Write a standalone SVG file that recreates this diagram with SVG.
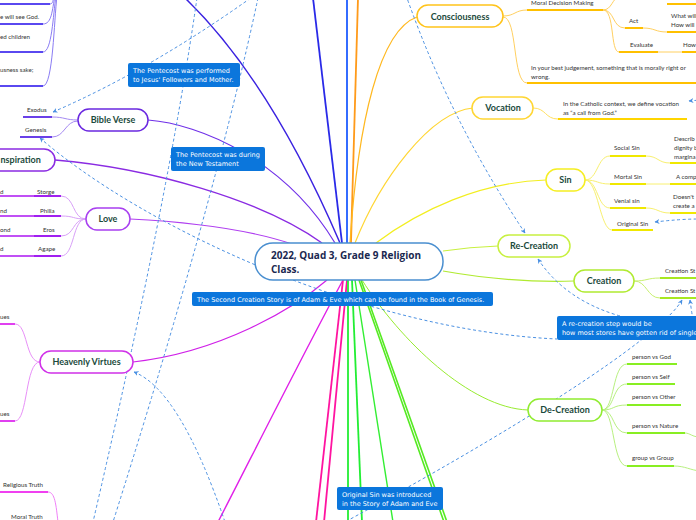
<svg xmlns="http://www.w3.org/2000/svg" width="696" height="520" viewBox="0 0 696 520">
<defs>
<marker id="ah" viewBox="0 0 10 10" refX="9" refY="5" markerWidth="5" markerHeight="5" orient="auto-start-reverse"><path d="M0,0 L10,5 L0,10 L3,5 z" fill="#4a90e2"/></marker>
</defs>
<style>
.c{fill:none}
.d{fill:none;stroke:#4a90e2;stroke-width:1;stroke-dasharray:3 2.5}
.n rect{fill:#fff;stroke-width:1.5}
.nt{font-family:Lato,"Open Sans",sans-serif;font-weight:bold;font-size:9px;fill:#1b4a3c;text-anchor:middle}
.sm{font-family:Lato,"Liberation Sans",sans-serif;font-size:6.2px;fill:#333}
.note rect{fill:#0b76dc}
.note text{font-family:"DejaVu Sans",sans-serif;font-size:6.5px;fill:#fff}
.ul{fill:none;stroke-width:1.8}
</style>
<rect width="696" height="520" fill="#fff"/>
<g id="connectors" class="c">
<path d="M340 243 Q270 80 185 -2" stroke="#3a22e0" stroke-width="1.5"/>
<path d="M342 243 L313 -2" stroke="#2a2ae8" stroke-width="1.8"/>
<path d="M347 243 L347 -2" stroke="#1f5cff" stroke-width="1.8"/>
<path d="M351 243 L358 -2" stroke="#ff9a1a" stroke-width="1.8"/>
<path d="M350 243 C358 120 380 30 417 17" stroke="#ffb81f" stroke-width="1.2"/>
<path d="M355 243 C380 180 430 112 473 108" stroke="#ffd633" stroke-width="1.2"/>
<path d="M376 243 C420 210 480 182 546 180" stroke="#f2ee20" stroke-width="1.2"/>
<path d="M443 251 Q470 247 498 246" stroke="#c8f040" stroke-width="1.2"/>
<path d="M443 271 Q510 283 574 281" stroke="#b0ea30" stroke-width="1.2"/>
<path d="M362 280 C400 340 470 408 528 410" stroke="#98ec30" stroke-width="1"/>
<path d="M148 120 C200 124 285 160 335 243" stroke="#7030e8" stroke-width="1.2"/>
<path d="M55 160 C150 168 262 200 322 243" stroke="#8a2be2" stroke-width="1.4"/>
<path d="M130 219 C190 222 250 230 292 244" stroke="#b040f0" stroke-width="1.2"/>
<path d="M133 362 C220 352 292 310 327 280" stroke="#d020e8" stroke-width="1.2"/>
<path d="M343 280 C300 360 250 460 218 522" stroke="#e020e8" stroke-width="1.4"/>
<path d="M343 280 L316 522" stroke="#ff14a0" stroke-width="1.8"/>
<path d="M347 280 L324 522" stroke="#ff14a0" stroke-width="1.8"/>
<path d="M348 280 L348 522" stroke="#22ee33" stroke-width="1.8"/>
<path d="M352 280 L362 522" stroke="#22ee33" stroke-width="1.8"/>
<path d="M355 280 L393 522" stroke="#33ee33" stroke-width="1.4"/>
<path d="M359 280 L444 522" stroke="#55ea22" stroke-width="1.6"/>
<path d="M361 280 L447 522" stroke="#55ea22" stroke-width="1.6"/>
<g stroke="#ffd060" stroke-width="1">
<path d="M503 16 C515 16 515 10 527 10"/>
<path d="M503 17 C518 17 512 83 527 83"/>
<path d="M603 10 C612 10 612 -2 620 -4"/>
<path d="M603 10 C615 10 612 28 625 28"/>
<path d="M603 10 C615 10 610 52 619 52"/>
<path d="M643 28 C655 28 655 32 667 32"/>
<path d="M658 52 H682"/>
</g>
<path d="M533 108 C546 108 545 119 558 119" stroke="#ffe060" stroke-width="1"/>
<g stroke="#f8f070" stroke-width="1">
<path d="M585 180 C598 180 597 156 610 156"/>
<path d="M585 180 C598 180 597 184 610 184"/>
<path d="M585 180 C598 180 597 208 610 208"/>
<path d="M585 180 C598 180 600 230 612 230"/>
<path d="M646 156 C658 156 658 163 670 163"/>
<path d="M646 184 H670"/>
<path d="M646 208 C658 208 658 213 670 213"/>
</g>
<g stroke="#c8f070" stroke-width="1">
<path d="M634 281 C647 281 647 278 660 278"/>
<path d="M634 281 C647 281 647 298 660 298"/>
</g>
<g stroke="#b8f080" stroke-width="1">
<path d="M602 410 C615 410 612 364 627 364"/>
<path d="M602 410 C615 410 612 384 627 384"/>
<path d="M602 410 C615 410 612 405 627 405"/>
<path d="M602 410 C615 410 612 433 627 433"/>
<path d="M602 410 C615 410 612 466 627 466"/>
<path d="M685 433 C690 433 692 437 700 437"/>
<path d="M674 466 C685 466 690 470 700 471"/>
</g>
<g stroke="#a58af2" stroke-width="1">
<path d="M78 120 C65 120 65 117 52 117"/>
<path d="M78 121 C65 121 65 137 52 137"/>
</g>
<g stroke="#d8a0f8" stroke-width="1">
<path d="M86 219 C72 219 75 196 61 196"/>
<path d="M86 219 C72 219 75 216 61 216"/>
<path d="M86 219 C72 219 75 236 61 236"/>
<path d="M86 219 C72 219 75 256 61 256"/>
</g>
<g stroke="#e890f8" stroke-width="1">
<path d="M40 362 C25 362 28 324 15 324"/>
<path d="M40 362 C25 362 28 421 15 421"/>
</g>
<g stroke="#8a7cf4" stroke-width="1">
<path d="M43 24 C52 24 52 10 55 -4"/>
<path d="M43 52 C52 52 53 15 56 -4"/>
<path d="M43 86 C53 86 54 20 57 -4"/>
<path d="M50 4 C53 4 53 0 54 -4"/>
</g>
<path d="M48 492 C55 492 56 505 58 522" stroke="#f080f8" stroke-width="1"/>
<path class="d" d="M53 112 Q150 70 255 -5" marker-start="url(#ah)"/>
<path class="d" d="M197 -2 Q168 200 93 522"/>
<path class="d" d="M258 -2 Q215 200 113 522"/>
<path class="d" d="M40 138 C140 225 360 330 557 339" marker-start="url(#ah)"/>
<path class="d" d="M134 372 Q180 390 225 522" marker-start="url(#ah)"/>
<path class="d" d="M682 300 C665 330 560 405 345 522" marker-start="url(#ah)"/>
<path class="d" d="M690 300 Q694 330 700 355" marker-start="url(#ah)"/>
<path class="d" d="M538 259 Q565 300 620 316" marker-start="url(#ah)"/>
<path class="d" d="M525 233 Q450 120 407 -2" marker-start="url(#ah)"/>
<path class="d" d="M689 101 L700 100" marker-start="url(#ah)"/>
<path class="d" d="M655 222 Q680 219 700 219" marker-start="url(#ah)"/>
</g>

<g id="center" class="n">
<rect x="255" y="243" width="188" height="37" rx="18" stroke="#4a8fd0" stroke-width="1.2"/>
<text x="271" y="259" font-family="'Open Sans',sans-serif" font-weight="bold" font-size="10" fill="#1a2850">2022, Quad 3, Grade 9 Religion</text>
<text x="271" y="273" font-family="'Open Sans',sans-serif" font-weight="bold" font-size="10" fill="#1a2850">Class.</text>
</g>

<g id="consciousness" class="n"><rect x="417" y="5" width="86" height="22" rx="11" stroke="#ffc31a"/><text class="nt" x="460" y="20">Consciousness</text></g>
<g id="consciousness-items">
<path class="ul" stroke="#ffc000" d="M527 10 H603 M527 83 H696 M667 4 H696 M625 28 H643 M619 52 H658 M667 32 H696 M682 52 H696"/>
<text class="sm" x="531" y="5">Moral Decision Making</text>
<text class="sm" x="629" y="23">Act</text>
<text class="sm" x="671" y="18">What will</text>
<text class="sm" x="671" y="27">How will</text>
<text class="sm" x="630" y="47">Evaluate</text>
<text class="sm" x="683" y="47">How</text>
<text class="sm" x="531" y="70">In your best judgement, something that is morally right or</text>
<text class="sm" x="531" y="79">wrong.</text>
</g>

<g id="vocation" class="n"><rect x="472" y="97" width="61" height="22" rx="11" stroke="#ffd633"/><text class="nt" x="503" y="111">Vocation</text></g>
<g id="vocation-item">
<path class="ul" stroke="#ffd500" d="M558 119 H687"/>
<text class="sm" x="563" y="106">In the Catholic context, we define vocation</text>
<text class="sm" x="563" y="115">as “a call from God.”</text>
</g>

<g id="sin" class="n"><rect x="546" y="169" width="39" height="22" rx="11" stroke="#f5ee22"/><text class="nt" x="565.5" y="183">Sin</text></g>
<g id="sin-items">
<path class="ul" stroke="#f0e800" d="M610 156 H646 M670 163 H696 M610 184 H646 M670 184 H696 M610 208 H646 M670 213 H696 M612 230 H653"/>
<text class="sm" x="614" y="150">Social Sin</text>
<text class="sm" x="674" y="141">Describ</text>
<text class="sm" x="674" y="150">dignity b</text>
<text class="sm" x="674" y="159">margina</text>
<text class="sm" x="614" y="179">Mortal Sin</text>
<text class="sm" x="676" y="179">A comp</text>
<text class="sm" x="614" y="203">Venial sin</text>
<text class="sm" x="673" y="199">Doesn't</text>
<text class="sm" x="673" y="208">create a</text>
<text class="sm" x="617" y="226">Original Sin</text>
</g>

<g id="re-creation" class="n"><rect x="498" y="235" width="72" height="22" rx="11" stroke="#c8f040"/><text class="nt" x="534" y="249">Re-Creation</text></g>

<g id="creation" class="n"><rect x="574" y="270" width="60" height="22" rx="11" stroke="#b0ea30"/><text class="nt" x="604" y="284">Creation</text></g>
<g id="creation-items">
<path class="ul" stroke="#a8e820" d="M660 278 H696 M660 298 H696"/>
<text class="sm" x="665" y="273">Creation St</text>
<text class="sm" x="665" y="293">Creation St</text>
</g>

<g id="de-creation" class="n"><rect x="528" y="399" width="74" height="22" rx="11" stroke="#90ec30"/><text class="nt" x="565" y="413">De-Creation</text></g>
<g id="de-creation-items">
<path class="ul" stroke="#88ee22" d="M627 364 H677 M627 384 H675 M627 405 H681 M627 433 H685 M627 466 H674"/>
<text class="sm" x="632" y="359">person vs God</text>
<text class="sm" x="632" y="379">person vs Self</text>
<text class="sm" x="632" y="399">person vs Other</text>
<text class="sm" x="632" y="428">person vs Nature</text>
<text class="sm" x="632" y="460">group vs Group</text>
</g>

<g id="bible-verse" class="n"><rect x="78" y="109" width="70" height="22" rx="11" stroke="#6a28e0"/><text class="nt" x="113" y="123">Bible Verse</text></g>
<g id="bible-items">
<path class="ul" stroke="#6a40e8" d="M23 117 H52 M20 137 H52"/>
<text class="sm" x="27" y="112">Exodus</text>
<text class="sm" x="25" y="132">Genesis</text>
</g>

<g id="inspiration" class="n"><rect x="-30" y="149" width="85" height="22" rx="11" stroke="#8a2be2"/><text class="nt" x="0.5" y="163" style="text-anchor:start">nspiration</text></g>

<g id="beatitudes-items">
<path class="ul" stroke="#5a48f0" d="M0 4 H50 M0 24 H43 M0 52 H43 M0 86 H43"/>
<text class="sm" x="0" y="19">e will see God.</text>
<text class="sm" x="0" y="39">ed children</text>
<text class="sm" x="0" y="72">usness sake;</text>
</g>

<g id="love" class="n"><rect x="86" y="208" width="44" height="22" rx="11" stroke="#a83ff0"/><text class="nt" x="108" y="222">Love</text></g>
<g id="love-items">
<path class="ul" stroke="#a020f0" d="M34 196 H61 M34 216 H61 M34 236 H61 M34 256 H61"/>
<path class="ul" stroke="#c050f5" d="M0 196 H34 M0 216 H34 M0 236 H34 M0 256 H34"/>
<text class="sm" x="37" y="194">Storge</text>
<text class="sm" x="40" y="213">Philia</text>
<text class="sm" x="43" y="232">Eros</text>
<text class="sm" x="38" y="251">Agape</text>
<text class="sm" x="0" y="194">d</text>
<text class="sm" x="0" y="213">nd</text>
<text class="sm" x="0" y="232">ond</text>
<text class="sm" x="0" y="251">d</text>
</g>

<g id="heavenly-virtues" class="n"><rect x="40" y="351" width="93" height="22" rx="11" stroke="#d030e8"/><text class="nt" x="86.5" y="365">Heavenly Virtues</text></g>
<g id="virtues-items">
<path class="ul" stroke="#e040f0" d="M0 324 H15 M0 421 H15"/>
<text class="sm" x="0" y="319">ues</text>
<text class="sm" x="0" y="416">ues</text>
</g>

<g id="truth-items">
<path class="ul" stroke="#f040f0" d="M0 492 H48"/>
<text class="sm" x="3" y="487">Religious Truth</text>
<text class="sm" x="11" y="519">Moral Truth</text>
</g>

<g id="note-pentecost-1" class="note"><rect x="128" y="63" width="112" height="24" rx="2"/><text x="133" y="73">The Pentecost was performed</text><text x="133" y="82">to Jesus' Followers and Mother.</text></g>
<g id="note-pentecost-2" class="note"><rect x="171" y="147" width="94" height="24" rx="2"/><text x="176" y="157">The Pentecost was during</text><text x="176" y="166"> the New Testament</text></g>
<g id="note-second-creation" class="note"><rect x="192" y="292" width="301" height="14" rx="2"/><text x="197" y="301.5">The Second Creation Story is of Adam &amp; Eve which can be found in the Book of Genesis.</text></g>
<g id="note-re-creation" class="note"><rect x="557" y="316" width="145" height="24" rx="2"/><text x="562" y="326">A re-creation step would be</text><text x="562" y="335">how most stores have gotten rid of single</text></g>
<g id="note-original-sin" class="note"><rect x="337" y="487" width="106" height="23" rx="2"/><text x="342" y="497">Original Sin was introduced</text><text x="342" y="506">in the Story of Adam and Eve</text></g>
</svg>
